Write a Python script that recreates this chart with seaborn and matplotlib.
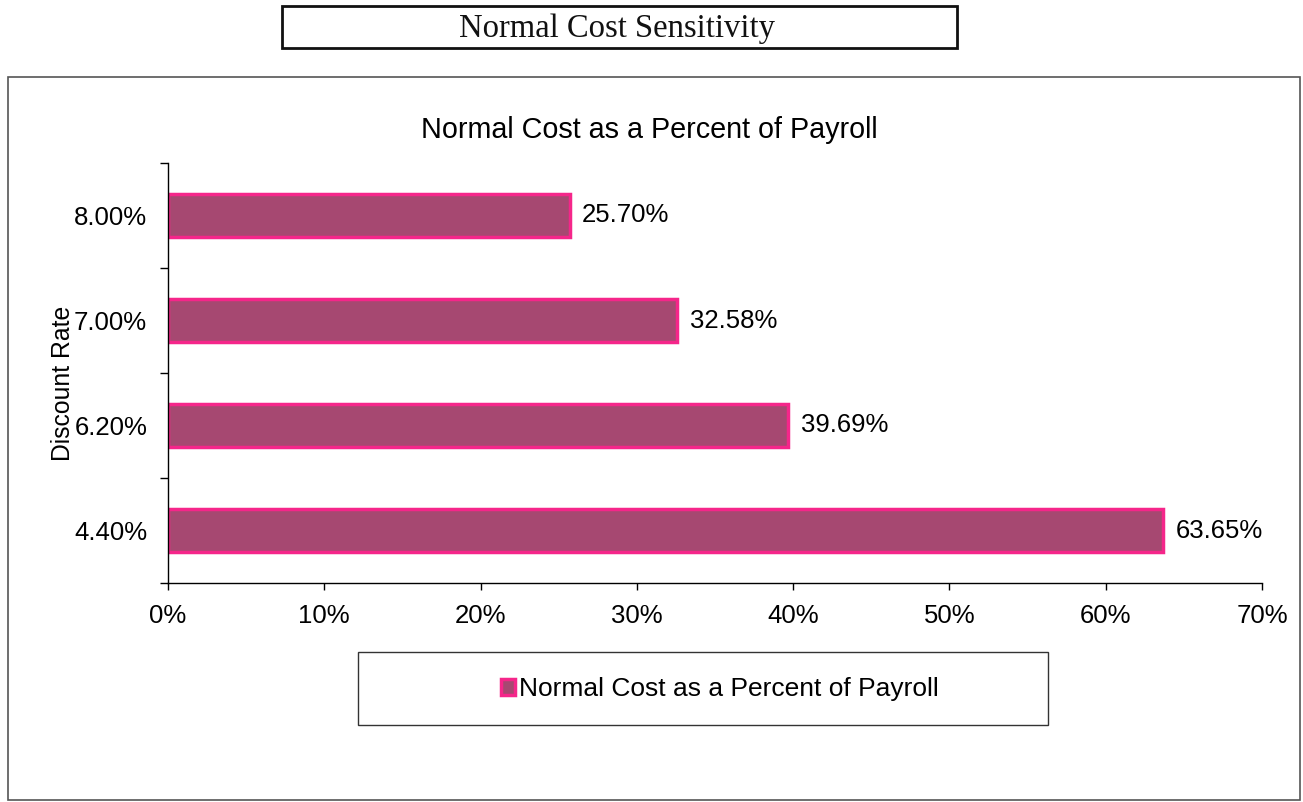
import matplotlib
matplotlib.use("Agg")
import matplotlib.pyplot as plt
import matplotlib.patches as mpatches
from matplotlib.ticker import FuncFormatter, FixedLocator
import seaborn as sns
import pandas as pd

# Data
discount_rates = ["8.00%", "7.00%", "6.20%", "4.40%"]
normal_cost_pct = [25.70, 32.58, 39.69, 63.65]
x_ticks = [0, 10, 20, 30, 40, 50, 60, 70]
series_name = "Normal Cost as a Percent of Payroll"
chart_title = "Normal Cost as a Percent of Payroll"
header = "Normal Cost Sensitivity"
y_label = "Discount Rate"

fill_color = "#A64871"
edge_color = "#F5268A"

sns.set_theme(style="white")
plt.rcParams["font.family"] = ["Liberation Sans", "DejaVu Sans"]

fig = plt.figure(figsize=(13.03, 8.02), dpi=100)
fig.patch.set_facecolor("white")

# outer frame
fig.patches.append(mpatches.Rectangle((8/1303, 1-800/802), 1292/1303, 723/802,
                                      transform=fig.transFigure, fill=False,
                                      edgecolor="#555555", linewidth=1.2))
# header box
fig.patches.append(mpatches.Rectangle((282/1303, 1-48/802), 675/1303, 42/802,
                                      transform=fig.transFigure, fill=False,
                                      edgecolor="#111111", linewidth=2))
fig.text(617/1303, 1-29/802, header, ha="center", va="center", fontsize=23.5,
         family=["Liberation Serif", "DejaVu Serif"], color="#111111")

ax = fig.add_axes([168/1303, 1-583/802, 1094/1303, 420/802])

df = pd.DataFrame({"rate": discount_rates, "value": normal_cost_pct})
sns.barplot(data=df, x="value", y="rate", orient="h", order=discount_rates,
            color=fill_color, edgecolor=edge_color, linewidth=2.5, width=0.41,
            saturation=1, ax=ax)

ax.set_xlim(0, 70)
ax.set_ylim(3.5, -0.5)
ax.xaxis.set_major_locator(FixedLocator(x_ticks))
ax.xaxis.set_major_formatter(FuncFormatter(lambda v, p: f"{v:.0f}%"))
ax.tick_params(axis="x", labelsize=18.5, length=5, width=1, direction="out",
               bottom=True, pad=10, colors="black")
ax.tick_params(axis="y", which="major", labelsize=18.5, length=0, pad=15, colors="black")
ax.set_yticks([-0.5, 0.5, 1.5, 2.5, 3.5], minor=True)
ax.tick_params(axis="y", which="minor", length=6, width=1, left=True, color="black")

for s in ["top", "right"]:
    ax.spines[s].set_visible(False)
for s in ["left", "bottom"]:
    ax.spines[s].set_color("black")
    ax.spines[s].set_linewidth(1)

ax.bar_label(ax.containers[0], labels=[f"{v:.2f}%" for v in normal_cost_pct],
             padding=9, fontsize=18.5, color="black")

ax.set_xlabel("")
ax.set_ylabel(y_label, fontsize=17.8, color="black")
ax.yaxis.set_label_coords(-0.085, 0.476)
ax.set_title(chart_title, fontsize=20.7, pad=18, color="black",
             x=(649 - 168) / 1094)

# legend box
fig.patches.append(mpatches.Rectangle((358/1303, 1-725/802), 690/1303, 73/802,
                                      transform=fig.transFigure, fill=False,
                                      edgecolor="#333333", linewidth=1))
handle = mpatches.Patch(facecolor=fill_color, edgecolor=edge_color, linewidth=2.5)
fig.legend([handle], [series_name], loc="center", bbox_to_anchor=(720/1303, 1-689/802),
           frameon=False, fontsize=19, handlelength=0.55, handleheight=0.55,
           handletextpad=0.15, labelcolor="black")

fig.savefig("out.png", dpi=100)
